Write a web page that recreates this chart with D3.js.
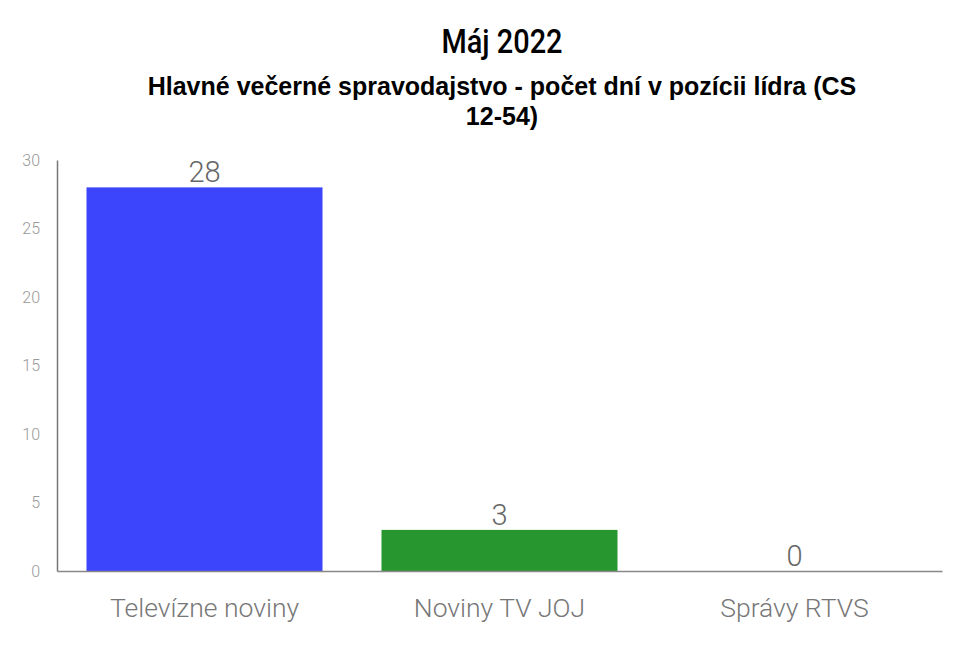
<!DOCTYPE html>
<html><head><meta charset="utf-8">
<script src="https://cdn.jsdelivr.net/npm/d3@7"></script>
<style>body{margin:0;background:#fff}svg{display:block}</style>
</head><body>
<svg id="c" width="959" height="648"></svg>
<script>
const categories = ["Televízne noviny", "Noviny TV JOJ", "Správy RTVS"];
const values = [28, 3, 0];
const colors = ["#3d45fc", "#27962e", "#888888"];
const yTicks = [0, 5, 10, 15, 20, 25, 30];
const title = "Máj 2022";
const subtitleLines = ["Hlavné večerné spravodajstvo - počet dní v pozícii lídra (CS", "12-54)"];

(function () {
const svg = d3.select("#c");
const mLeft = 57, mRight = 942, mTop = 160, mBottom = 571;
const x = d3.scaleBand().domain(categories).range([mLeft, mRight]).paddingInner(0.2).paddingOuter(0.1);
const y = d3.scaleLinear().domain([0, 30]).range([mBottom, mTop]);

svg.append("text").attr("x", 502).attr("y", 53).attr("text-anchor", "middle")
  .attr("textLength", 121).attr("lengthAdjust", "spacingAndGlyphs")
  .style("font-family", "Roboto").style("font-weight", 500).style("font-size", "34px").attr("fill", "#000")
  .text(title);
svg.selectAll("text.sub").data(subtitleLines).enter().append("text").attr("class", "sub")
  .attr("x", 502).attr("y", (d, i) => 95 + i * 30).attr("text-anchor", "middle")
  .style("font-family", "Liberation Sans").style("font-weight", "bold").style("font-size", "25px").attr("fill", "#000")
  .text(d => d);

svg.selectAll("rect.bar").data(categories).enter().append("rect").attr("class", "bar")
  .attr("x", d => x(d)).attr("width", x.bandwidth())
  .attr("y", (d, i) => y(values[i])).attr("height", (d, i) => mBottom - y(values[i]))
  .attr("fill", (d, i) => colors[i]);

svg.selectAll("text.val").data(categories).enter().append("text").attr("class", "val")
  .attr("x", d => x(d) + x.bandwidth() / 2).attr("y", (d, i) => y(values[i]) - 5)
  .attr("text-anchor", "middle")
  .style("font-family", "Roboto").style("font-weight", 300).style("font-size", "29px").attr("fill", "#666")
  .text((d, i) => values[i]);

const yAxis = svg.append("g").attr("transform", `translate(${mLeft},0)`)
  .call(d3.axisLeft(y).tickValues(yTicks).tickSize(0).tickPadding(17));
yAxis.select(".domain").attr("stroke", "#777").attr("stroke-width", 1.5);
yAxis.selectAll("text").style("font-family", "Roboto").style("font-weight", 300).style("font-size", "16px").attr("fill", "#999");

const xAxis = svg.append("g").attr("transform", `translate(0,${mBottom})`)
  .call(d3.axisBottom(x).tickSize(0).tickPadding(27));
xAxis.select(".domain").attr("stroke", "#888").attr("stroke-width", 1.5);
xAxis.selectAll("text").style("font-family", "Roboto").style("font-weight", 300).style("font-size", "26.5px").attr("fill", "#777");
})();
</script>
</body></html>
